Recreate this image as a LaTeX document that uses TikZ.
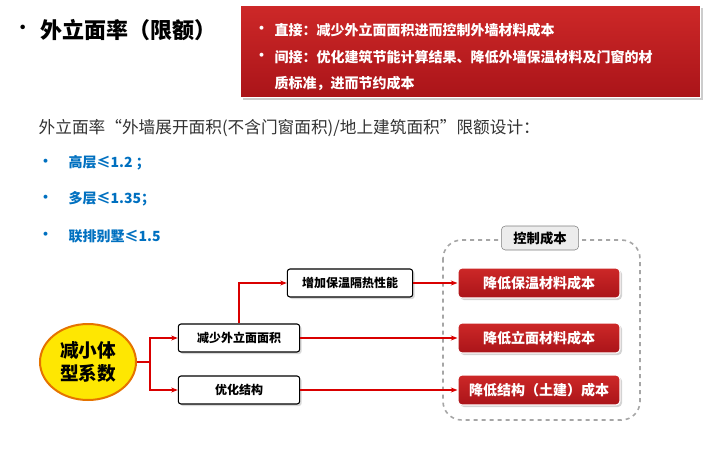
\documentclass[tikz,border=0pt]{standalone}
\usepackage{fontspec}
\setmainfont{Noto Sans CJK SC}
\usetikzlibrary{arrows.meta,shapes.geometric,shadows}
\definecolor{dred}{RGB}{170,20,25}
\definecolor{mred}{RGB}{205,40,40}
\definecolor{blu}{RGB}{0,112,192}
\definecolor{txt}{RGB}{50,50,50}
\tikzset{
 redbox/.style={draw=white,line width=0.8pt,rounded corners=3pt,top color=mred,bottom color=dred,text=white,font=\bfseries\fontsize{10.5}{12}\selectfont,minimum width=121.5pt,minimum height=22.5pt,inner sep=1pt,drop shadow={opacity=0.35,shadow xshift=1.5pt,shadow yshift=-1.5pt}},
 wbox/.style={draw=black,line width=0.8pt,fill=white,rounded corners=2pt,font=\bfseries\fontsize{9}{11}\selectfont,minimum height=21pt,inner sep=1pt,drop shadow={opacity=0.3,shadow xshift=1.5pt,shadow yshift=-1.5pt}},
 conn/.style={draw=red!85!black,line width=0.8pt,-{Stealth[length=5pt]}},
 bl/.style={text=blu,font=\bfseries\fontsize{10.5}{12}\selectfont,anchor=west}
}
\begin{document}
\begin{tikzpicture}[x=0.75pt,y=-0.75pt]
\useasboundingbox (0,0) rectangle (707,457);
\node[anchor=west,font=\fontsize{16}{18}\selectfont] (b0) at (8,30) {•};
\node[anchor=west,font=\bfseries\fontsize{16.5}{18}\selectfont] (title) at (36,30) {外立面率（限额）};
\node[draw=white,line width=1pt,top color=mred,bottom color=dred,minimum width=345pt,minimum height=69pt,anchor=north west,drop shadow={opacity=0.4,shadow xshift=2pt,shadow yshift=-2pt}] (rb) at (240,5) {};
\begin{scope}[every node/.style={text=white,font=\bfseries\fontsize{10.5}{12}\selectfont,anchor=west}]
\node (r1b) at (250,30) {•};
\node (r1) at (270,30) {直接：减少外立面面积进而控制外墙材料成本};
\node (r2b) at (250,57) {•};
\node (r2) at (270,57) {间接：优化建筑节能计算结果、降低外墙保温材料及门窗的材};
\node (r3) at (270,83) {质标准，进而节约成本};
\end{scope}
\node[anchor=west,text=txt,font=\fontsize{12.5}{14}\selectfont] (desc) at (34,128) {外立面率“外墙展开面积(不含门窗面积)/地上建筑面积”限额设计：};
\node[bl] (d1) at (34,163) {•};\node[bl] (t1) at (64,163) {高层≤1.2 ；};
\node[bl] (d2) at (34,199) {•};\node[bl] (t2) at (64,199) {多层≤1.35；};
\node[bl] (d3) at (34,236) {•};\node[bl] (t3) at (64,236) {联排别墅≤1.5};
\draw[gray!70,dashed,line width=1.2pt,rounded corners=14pt] (443,240) rectangle (640,420);
\node[draw=gray,fill=gray!15,rounded corners=3pt,font=\bfseries\fontsize{10}{12}\selectfont,minimum width=58pt,minimum height=18pt] (ctl) at (540,238) {控制成本};
\node[redbox] (c1) at (539,283) {降低保温材料成本};
\node[redbox] (c2) at (539,338) {降低立面材料成本};
\node[redbox] (c3) at (539,390) {降低结构（土建）成本};
\node[ellipse,draw=orange!90!black,line width=1.5pt,fill=yellow!90!orange,minimum width=72pt,minimum height=57pt,align=center,inner sep=0pt,font=\bfseries\fontsize{14}{17}\selectfont] (el) at (88,362) {减小体\\型系数};
\node[wbox,minimum width=94pt] (w1) at (350,283) {增加保温隔热性能};
\node[wbox,minimum width=91pt] (w2) at (239,338) {减少外立面面积};
\node[wbox,minimum width=91pt] (w3) at (239,390) {优化结构};
\coordinate (j) at (150,362);
\draw[conn] (el.east) -- (j) |- (w2.west);
\draw[conn] (j) |- (w3.west);
\draw[conn] (w2.north) |- (w1.west);
\draw[conn] (w1.east) -- (c1.west);
\draw[conn] (w2.east) -- (c2.west);
\draw[conn] (w3.east) -- (c3.west);
\end{tikzpicture}
\end{document}
